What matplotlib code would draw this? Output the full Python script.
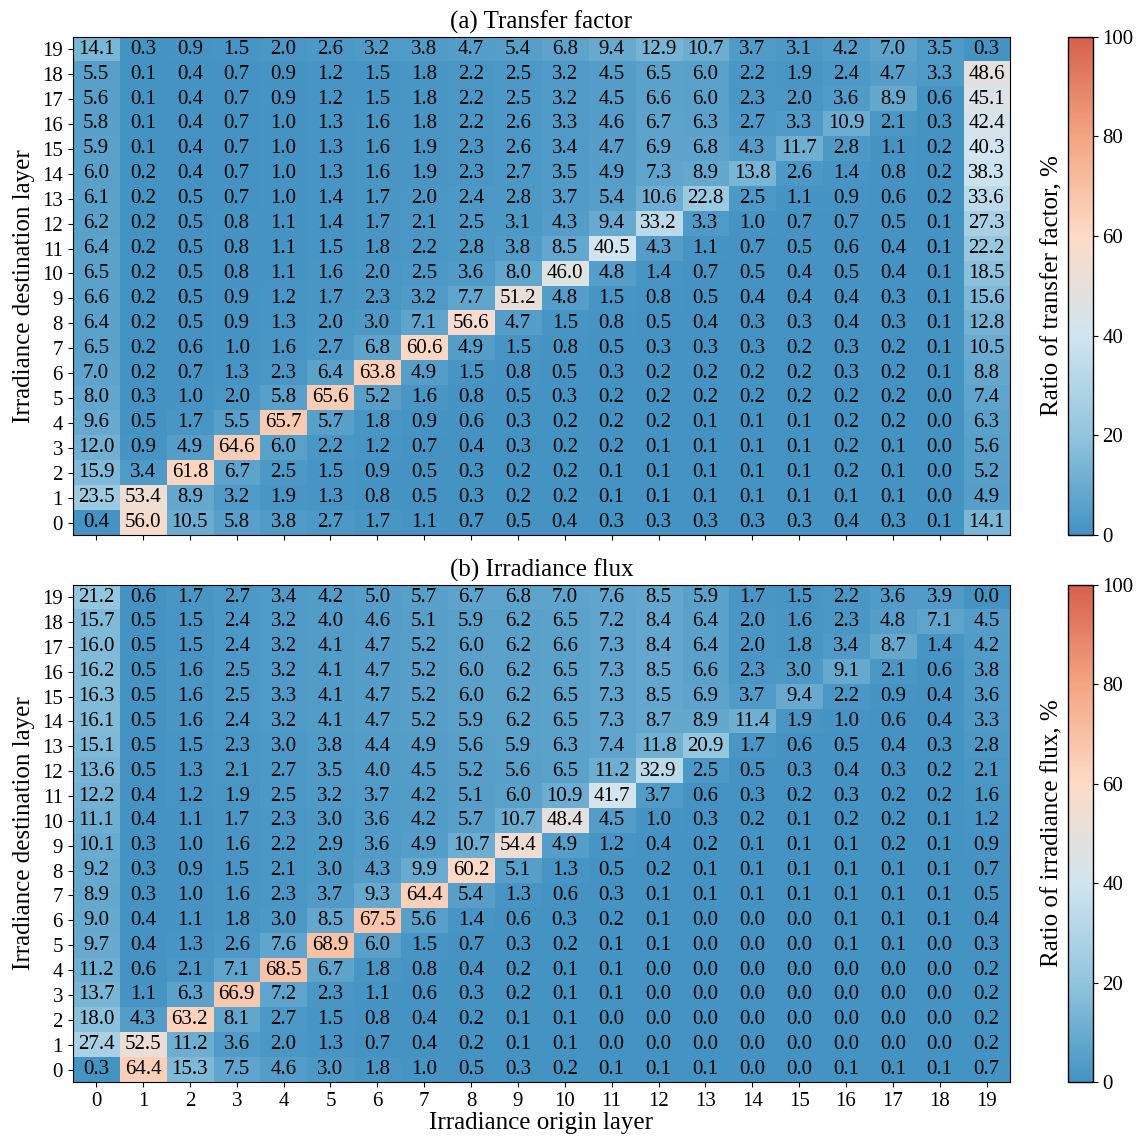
import matplotlib.pyplot as plt
import numpy as np
from matplotlib.colors import LinearSegmentedColormap

plt.rcParams['font.family'] = ['Liberation Serif', 'DejaVu Serif']

layers = list(range(20))

# rows listed from destination layer 19 (top) down to 0 (bottom), columns = origin layer 0..19
tf_rows = [
    [14.1, 0.3, 0.9, 1.5, 2.0, 2.6, 3.2, 3.8, 4.7, 5.4, 6.8, 9.4, 12.9, 10.7, 3.7, 3.1, 4.2, 7.0, 3.5, 0.3],
    [5.5, 0.1, 0.4, 0.7, 0.9, 1.2, 1.5, 1.8, 2.2, 2.5, 3.2, 4.5, 6.5, 6.0, 2.2, 1.9, 2.4, 4.7, 3.3, 48.6],
    [5.6, 0.1, 0.4, 0.7, 0.9, 1.2, 1.5, 1.8, 2.2, 2.5, 3.2, 4.5, 6.6, 6.0, 2.3, 2.0, 3.6, 8.9, 0.6, 45.1],
    [5.8, 0.1, 0.4, 0.7, 1.0, 1.3, 1.6, 1.8, 2.2, 2.6, 3.3, 4.6, 6.7, 6.3, 2.7, 3.3, 10.9, 2.1, 0.3, 42.4],
    [5.9, 0.1, 0.4, 0.7, 1.0, 1.3, 1.6, 1.9, 2.3, 2.6, 3.4, 4.7, 6.9, 6.8, 4.3, 11.7, 2.8, 1.1, 0.2, 40.3],
    [6.0, 0.2, 0.4, 0.7, 1.0, 1.3, 1.6, 1.9, 2.3, 2.7, 3.5, 4.9, 7.3, 8.9, 13.8, 2.6, 1.4, 0.8, 0.2, 38.3],
    [6.1, 0.2, 0.5, 0.7, 1.0, 1.4, 1.7, 2.0, 2.4, 2.8, 3.7, 5.4, 10.6, 22.8, 2.5, 1.1, 0.9, 0.6, 0.2, 33.6],
    [6.2, 0.2, 0.5, 0.8, 1.1, 1.4, 1.7, 2.1, 2.5, 3.1, 4.3, 9.4, 33.2, 3.3, 1.0, 0.7, 0.7, 0.5, 0.1, 27.3],
    [6.4, 0.2, 0.5, 0.8, 1.1, 1.5, 1.8, 2.2, 2.8, 3.8, 8.5, 40.5, 4.3, 1.1, 0.7, 0.5, 0.6, 0.4, 0.1, 22.2],
    [6.5, 0.2, 0.5, 0.8, 1.1, 1.6, 2.0, 2.5, 3.6, 8.0, 46.0, 4.8, 1.4, 0.7, 0.5, 0.4, 0.5, 0.4, 0.1, 18.5],
    [6.6, 0.2, 0.5, 0.9, 1.2, 1.7, 2.3, 3.2, 7.7, 51.2, 4.8, 1.5, 0.8, 0.5, 0.4, 0.4, 0.4, 0.3, 0.1, 15.6],
    [6.4, 0.2, 0.5, 0.9, 1.3, 2.0, 3.0, 7.1, 56.6, 4.7, 1.5, 0.8, 0.5, 0.4, 0.3, 0.3, 0.4, 0.3, 0.1, 12.8],
    [6.5, 0.2, 0.6, 1.0, 1.6, 2.7, 6.8, 60.6, 4.9, 1.5, 0.8, 0.5, 0.3, 0.3, 0.3, 0.2, 0.3, 0.2, 0.1, 10.5],
    [7.0, 0.2, 0.7, 1.3, 2.3, 6.4, 63.8, 4.9, 1.5, 0.8, 0.5, 0.3, 0.2, 0.2, 0.2, 0.2, 0.3, 0.2, 0.1, 8.8],
    [8.0, 0.3, 1.0, 2.0, 5.8, 65.6, 5.2, 1.6, 0.8, 0.5, 0.3, 0.2, 0.2, 0.2, 0.2, 0.2, 0.2, 0.2, 0.0, 7.4],
    [9.6, 0.5, 1.7, 5.5, 65.7, 5.7, 1.8, 0.9, 0.6, 0.3, 0.2, 0.2, 0.2, 0.1, 0.1, 0.1, 0.2, 0.2, 0.0, 6.3],
    [12.0, 0.9, 4.9, 64.6, 6.0, 2.2, 1.2, 0.7, 0.4, 0.3, 0.2, 0.2, 0.1, 0.1, 0.1, 0.1, 0.2, 0.1, 0.0, 5.6],
    [15.9, 3.4, 61.8, 6.7, 2.5, 1.5, 0.9, 0.5, 0.3, 0.2, 0.2, 0.1, 0.1, 0.1, 0.1, 0.1, 0.2, 0.1, 0.0, 5.2],
    [23.5, 53.4, 8.9, 3.2, 1.9, 1.3, 0.8, 0.5, 0.3, 0.2, 0.2, 0.1, 0.1, 0.1, 0.1, 0.1, 0.1, 0.1, 0.0, 4.9],
    [0.4, 56.0, 10.5, 5.8, 3.8, 2.7, 1.7, 1.1, 0.7, 0.5, 0.4, 0.3, 0.3, 0.3, 0.3, 0.3, 0.4, 0.3, 0.1, 14.1],
]

flux_rows = [
    [21.2, 0.6, 1.7, 2.7, 3.4, 4.2, 5.0, 5.7, 6.7, 6.8, 7.0, 7.6, 8.5, 5.9, 1.7, 1.5, 2.2, 3.6, 3.9, 0.0],
    [15.7, 0.5, 1.5, 2.4, 3.2, 4.0, 4.6, 5.1, 5.9, 6.2, 6.5, 7.2, 8.4, 6.4, 2.0, 1.6, 2.3, 4.8, 7.1, 4.5],
    [16.0, 0.5, 1.5, 2.4, 3.2, 4.1, 4.7, 5.2, 6.0, 6.2, 6.6, 7.3, 8.4, 6.4, 2.0, 1.8, 3.4, 8.7, 1.4, 4.2],
    [16.2, 0.5, 1.6, 2.5, 3.2, 4.1, 4.7, 5.2, 6.0, 6.2, 6.5, 7.3, 8.5, 6.6, 2.3, 3.0, 9.1, 2.1, 0.6, 3.8],
    [16.3, 0.5, 1.6, 2.5, 3.3, 4.1, 4.7, 5.2, 6.0, 6.2, 6.5, 7.3, 8.5, 6.9, 3.7, 9.4, 2.2, 0.9, 0.4, 3.6],
    [16.1, 0.5, 1.6, 2.4, 3.2, 4.1, 4.7, 5.2, 5.9, 6.2, 6.5, 7.3, 8.7, 8.9, 11.4, 1.9, 1.0, 0.6, 0.4, 3.3],
    [15.1, 0.5, 1.5, 2.3, 3.0, 3.8, 4.4, 4.9, 5.6, 5.9, 6.3, 7.4, 11.8, 20.9, 1.7, 0.6, 0.5, 0.4, 0.3, 2.8],
    [13.6, 0.5, 1.3, 2.1, 2.7, 3.5, 4.0, 4.5, 5.2, 5.6, 6.5, 11.2, 32.9, 2.5, 0.5, 0.3, 0.4, 0.3, 0.2, 2.1],
    [12.2, 0.4, 1.2, 1.9, 2.5, 3.2, 3.7, 4.2, 5.1, 6.0, 10.9, 41.7, 3.7, 0.6, 0.3, 0.2, 0.3, 0.2, 0.2, 1.6],
    [11.1, 0.4, 1.1, 1.7, 2.3, 3.0, 3.6, 4.2, 5.7, 10.7, 48.4, 4.5, 1.0, 0.3, 0.2, 0.1, 0.2, 0.2, 0.1, 1.2],
    [10.1, 0.3, 1.0, 1.6, 2.2, 2.9, 3.6, 4.9, 10.7, 54.4, 4.9, 1.2, 0.4, 0.2, 0.1, 0.1, 0.1, 0.2, 0.1, 0.9],
    [9.2, 0.3, 0.9, 1.5, 2.1, 3.0, 4.3, 9.9, 60.2, 5.1, 1.3, 0.5, 0.2, 0.1, 0.1, 0.1, 0.1, 0.1, 0.1, 0.7],
    [8.9, 0.3, 1.0, 1.6, 2.3, 3.7, 9.3, 64.4, 5.4, 1.3, 0.6, 0.3, 0.1, 0.1, 0.1, 0.1, 0.1, 0.1, 0.1, 0.5],
    [9.0, 0.4, 1.1, 1.8, 3.0, 8.5, 67.5, 5.6, 1.4, 0.6, 0.3, 0.2, 0.1, 0.0, 0.0, 0.0, 0.1, 0.1, 0.1, 0.4],
    [9.7, 0.4, 1.3, 2.6, 7.6, 68.9, 6.0, 1.5, 0.7, 0.3, 0.2, 0.1, 0.1, 0.0, 0.0, 0.0, 0.1, 0.1, 0.0, 0.3],
    [11.2, 0.6, 2.1, 7.1, 68.5, 6.7, 1.8, 0.8, 0.4, 0.2, 0.1, 0.1, 0.0, 0.0, 0.0, 0.0, 0.0, 0.0, 0.0, 0.2],
    [13.7, 1.1, 6.3, 66.9, 7.2, 2.3, 1.1, 0.6, 0.3, 0.2, 0.1, 0.1, 0.0, 0.0, 0.0, 0.0, 0.0, 0.0, 0.0, 0.2],
    [18.0, 4.3, 63.2, 8.1, 2.7, 1.5, 0.8, 0.4, 0.2, 0.1, 0.1, 0.0, 0.0, 0.0, 0.0, 0.0, 0.0, 0.0, 0.0, 0.2],
    [27.4, 52.5, 11.2, 3.6, 2.0, 1.3, 0.7, 0.4, 0.2, 0.1, 0.1, 0.0, 0.0, 0.0, 0.0, 0.0, 0.0, 0.0, 0.0, 0.2],
    [0.3, 64.4, 15.3, 7.5, 4.6, 3.0, 1.8, 1.0, 0.5, 0.3, 0.2, 0.1, 0.1, 0.1, 0.0, 0.0, 0.1, 0.1, 0.1, 0.7],
]

titles = ['(a) Transfer factor', '(b) Irradiance flux']
cbar_labels = ['Ratio of transfer factor, %', 'Ratio of irradiance flux, %']

# smooth map through the light part of RdBu (6 steps)
cmap = LinearSegmentedColormap.from_list(
    'rdbu6', ['#4393c3', '#92c5de', '#d1e5f0', '#fddbc7', '#f4a582', '#d6604d'])

fig = plt.figure(figsize=(11.41, 11.41), dpi=100)
ax_pos = [[0.0637, 0.5311, 0.8215, 0.4367], [0.0637, 0.0517, 0.8215, 0.4359]]
cb_pos = [[0.9358, 0.5311, 0.0219, 0.4367], [0.9358, 0.0517, 0.0219, 0.4359]]

for k, rows in enumerate([tf_rows, flux_rows]):
    data = np.array(rows)[::-1]  # row 0 = destination layer 0
    ax = fig.add_axes(ax_pos[k])
    cax = fig.add_axes(cb_pos[k])
    im = ax.imshow(data, cmap=cmap, vmin=0, vmax=100, origin='lower', aspect='auto',
                   extent=(-0.5, 19.5, -0.5, 19.5))
    for i in range(20):
        for j in range(20):
            ax.text(j, i, f'{data[i, j]:.1f}', ha='center', va='center', fontsize=15, color='black')
    ax.set_xticks(layers)
    ax.set_yticks(layers)
    ax.tick_params(labelsize=15)
    if k == 0:
        ax.set_xticklabels([])
    else:
        ax.set_xlabel('Irradiance origin layer', fontsize=18, labelpad=1)
    ax.set_ylabel('Irradiance destination layer', fontsize=18, labelpad=5)
    ax.set_title(titles[k], fontsize=18, pad=6)
    cb = fig.colorbar(im, cax=cax)
    cb.set_ticks([0, 20, 40, 60, 80, 100])
    cb.ax.tick_params(labelsize=15)
    cb.ax.yaxis.set_label_position('left')
    cb.set_label(cbar_labels[k], fontsize=18, labelpad=3)
    cb.outline.set_linewidth(1.0)

fig.savefig('out.png', dpi=100)
